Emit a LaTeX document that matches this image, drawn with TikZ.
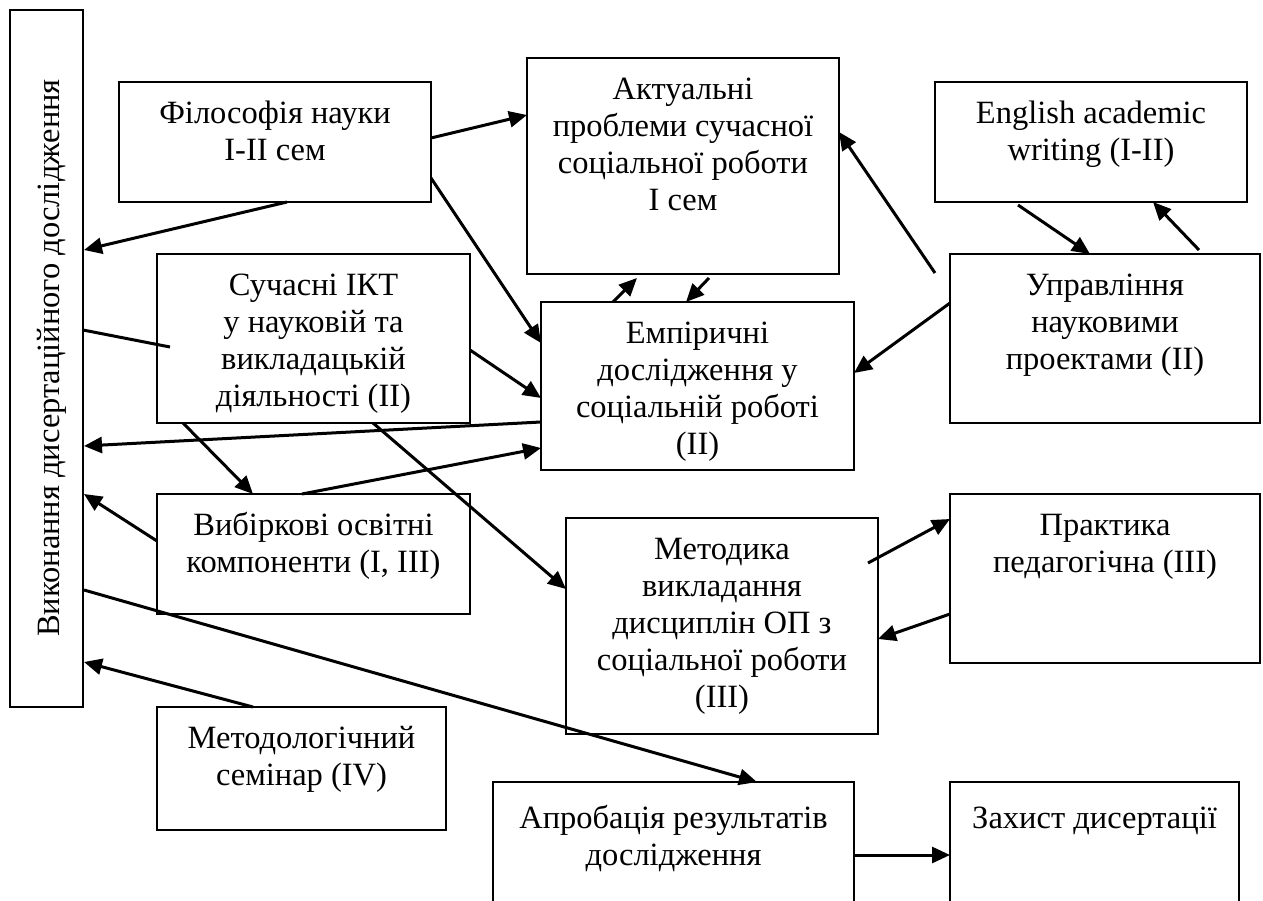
\documentclass[tikz,border=0pt]{standalone}
\usepackage{fontspec}
\setmainfont{Liberation Serif}
\usetikzlibrary{arrows.meta}
\begin{document}
\begin{tikzpicture}[x=1pt,y=-1pt]
\tikzset{
 box/.style={draw, line width=2.6pt, inner sep=0pt, outer sep=0pt, rectangle},
 txt/.style={anchor=north, inner sep=0pt, align=center, font=\fontsize{32.5}{37}\selectfont},
 arr/.style={line width=3pt, -{Triangle[length=18pt,width=16pt]}},
 ln/.style={line width=3pt}
}
\clip (0,0) rectangle (1263,901);
\fill[white] (0,0) rectangle (1263,901);

% boxes
\node[box, minimum width=73pt,  minimum height=697pt] (L)  at (46.5,358.5) {};
\node[box, minimum width=312pt, minimum height=120pt] (F)  at (275,142) {};
\node[box, minimum width=312pt, minimum height=216pt] (A)  at (683,166) {};
\node[box, minimum width=312pt, minimum height=120pt] (E)  at (1091,142) {};
\node[box, minimum width=313pt, minimum height=169pt] (S)  at (313.5,338.5) {};
\node[box, minimum width=313pt, minimum height=168pt] (Em) at (697.5,386) {};
\node[box, minimum width=310pt, minimum height=169pt] (U)  at (1105,338.5) {};
\node[box, minimum width=313pt, minimum height=120pt] (V)  at (313.5,554) {};
\node[box, minimum width=312pt, minimum height=216pt] (M)  at (722,626) {};
\node[box, minimum width=310pt, minimum height=169pt] (P)  at (1105,578.5) {};
\node[box, minimum width=289pt, minimum height=123pt] (Mt) at (301.5,768.5) {};
\node[box, minimum width=361pt, minimum height=178pt] (Ap) at (673.5,871) {};
\node[box, minimum width=289pt, minimum height=178pt] (Z)  at (1094.5,871) {};

% texts
\node[font=\fontsize{32.5}{37}\selectfont, rotate=90, inner sep=0pt] (Lt) at (52,358) {Виконання дисертаційного дослідження};
\node[txt] (Ft)  at ([yshift=-15pt]F.north)  {\strut Філософія науки\\I-II сем};
\node[txt] (At)  at ([yshift=-15pt]A.north)  {\strut Актуальні\\проблеми сучасної\\соціальної роботи\\I сем};
\node[txt] (Et)  at ([yshift=-15pt]E.north)  {\strut English academic\\writing (I-II)};
\node[txt] (St)  at ([yshift=-15pt]S.north)  {\strut Сучасні ІКТ\\у науковій та\\викладацькій\\діяльності (II)};
\node[txt] (Emt) at ([yshift=-15pt]Em.north) {\strut Емпіричні\\дослідження у\\соціальній роботі\\(II)};
\node[txt] (Ut)  at ([yshift=-15pt]U.north)  {\strut Управління\\науковими\\проектами (II)};
\node[txt] (Vt)  at ([yshift=-15pt]V.north)  {\strut Вибіркові освітні\\компоненти (I, III)};
\node[txt] (Mtt) at ([yshift=-15pt]Mt.north) {\strut Методологічний\\семінар (IV)};
\node[txt] (Mx)  at ([yshift=-15pt]M.north)  {\strut Методика\\викладання\\дисциплін ОП з\\соціальної роботи\\(III)};
\node[txt] (Pt)  at ([yshift=-15pt]P.north)  {\strut Практика\\педагогічна (III)};
\node[txt] (Apt) at ([yshift=-20pt]Ap.north) {\strut Апробація результатів\\дослідження};
\node[txt] (Zt)  at ([yshift=-20pt]Z.north)  {\strut Захист дисертації};

% connectors
\draw[arr] ([yshift=-56pt]F.north east) -- ([yshift=-57pt]A.north west);
\draw[arr] ([yshift=-96pt]F.north east) -- ([yshift=-41pt]Em.north west);
\draw[arr] ([xshift=168pt]F.south west) -- ([xshift=1pt,yshift=-240pt]L.north east);
\draw[ln]  ([yshift=-320pt]L.north east) -- ([xshift=13pt,yshift=-93pt]S.north west);
\draw[arr] ([yshift=-96pt]S.north east) -- ([yshift=-96pt]Em.north west);
\draw[arr] ([yshift=-120pt]Em.north west) -- ([xshift=1pt,yshift=-436pt]L.north east);
\draw[arr] ([xshift=26pt]S.south west) -- ([xshift=96pt]V.north west);
\draw[arr] ([xshift=216pt]S.south west) -- ([yshift=-71pt]M.north west);
\draw[arr] ([xshift=145pt]V.north west) -- ([yshift=-146pt]Em.north west);
\draw[arr] ([yshift=-47pt]V.north west) -- ([xshift=1pt,yshift=-484pt]L.north east);
\draw[arr] ([xshift=1pt,yshift=-580pt]L.north east) -- ([xshift=264pt]Ap.north west);
\draw[arr] ([xshift=96pt]Mt.north west) -- ([xshift=1pt,yshift=-652pt]L.north east);
\draw[arr] ([xshift=72pt]Em.north west) -- ([xshift=110pt,yshift=-4pt]A.south west);
\draw[arr] ([xshift=182pt,yshift=-4pt]A.south west) -- ([xshift=145pt]Em.north west);
\draw[arr] ([xshift=-15pt,yshift=-19pt]U.north west) -- ([yshift=-74pt]A.north east);
\draw[arr] ([yshift=-49pt]U.north west) -- ([yshift=-71pt]Em.north east);
\draw[arr] ([xshift=83pt,yshift=-3pt]E.south west) -- ([xshift=140pt]U.north west);
\draw[arr] ([xshift=249pt,yshift=4pt]U.north west) -- ([xshift=218pt]E.south west);
\draw[arr] ([xshift=-10pt,yshift=-45pt]M.north east) -- ([yshift=-25pt]P.north west);
\draw[arr] ([yshift=-120pt]P.north west) -- ([yshift=-121pt]M.north east);
\draw[arr] ([yshift=-73pt]Ap.north east) -- ([yshift=-73pt]Z.north west);
\end{tikzpicture}
\end{document}
